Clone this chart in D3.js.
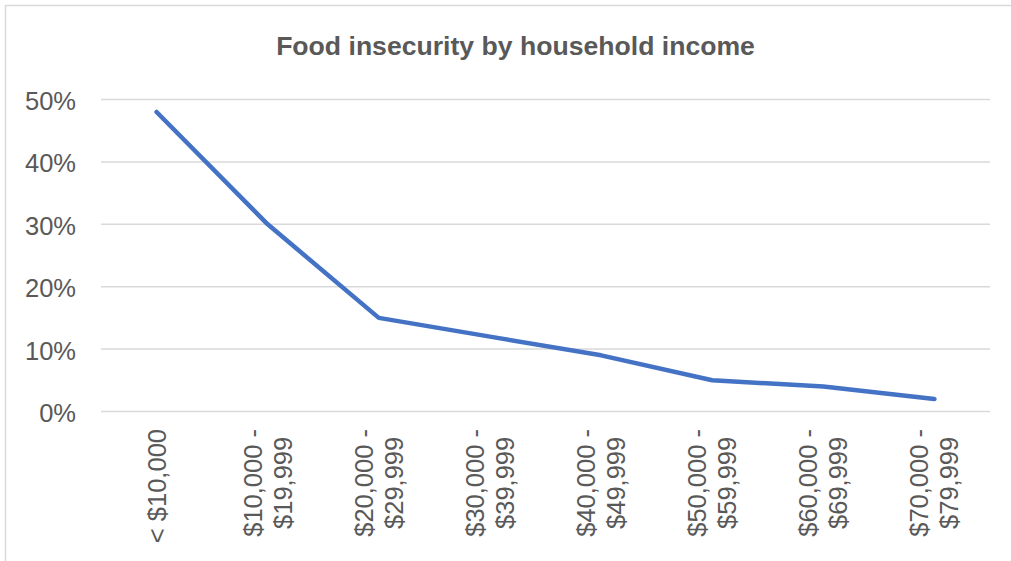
<!DOCTYPE html>
<html>
<head>
<meta charset="utf-8">
<script src="https://cdn.jsdelivr.net/npm/d3@7"></script>
<style>
  html, body { margin: 0; padding: 0; background: #ffffff; }
  svg { display: block; font-family: "Liberation Sans", Arial, sans-serif; }
</style>
</head>
<body>
<svg id="chart" width="1011" height="561"></svg>
<script>
const title = "Food insecurity by household income";
const categories = [
  ["< $10,000"],
  ["$10,000 -", "$19,999"],
  ["$20,000 -", "$29,999"],
  ["$30,000 -", "$39,999"],
  ["$40,000 -", "$49,999"],
  ["$50,000 -", "$59,999"],
  ["$60,000 -", "$69,999"],
  ["$70,000 -", "$79,999"]
];
const values = [0.48, 0.30, 0.15, 0.12, 0.09, 0.05, 0.04, 0.02];
const yTicks = [0, 0.1, 0.2, 0.3, 0.4, 0.5];

const svg = d3.select("#chart");
const W = 1011, H = 561;
const plot = { left: 101, right: 990, top: 99.5, bottom: 411.5 };
const textColor = "#595959";

// outer chart border
svg.append("rect")
  .attr("x", 5.5).attr("y", 5.5)
  .attr("width", W + 10).attr("height", H + 10)
  .attr("fill", "#ffffff")
  .attr("stroke", "#d9d9d9").attr("stroke-width", 1.5);

// title
svg.append("text")
  .attr("x", 515.5).attr("y", 46)
  .attr("text-anchor", "middle")
  .attr("dominant-baseline", "central")
  .attr("font-size", 26.6).attr("font-weight", "bold")
  .attr("fill", textColor)
  .text(title);

const x = d3.scaleBand()
  .domain(d3.range(categories.length))
  .range([plot.left, plot.right]);

const y = d3.scaleLinear()
  .domain([0, 0.5])
  .range([plot.bottom, plot.top]);

// gridlines
svg.append("g")
  .selectAll("line")
  .data(yTicks)
  .join("line")
  .attr("x1", plot.left).attr("x2", plot.right)
  .attr("y1", d => y(d)).attr("y2", d => y(d))
  .attr("stroke", "#d9d9d9").attr("stroke-width", 1.5);

// y labels
const fmt = d3.format(".0%");
svg.append("g")
  .selectAll("text")
  .data(yTicks)
  .join("text")
  .attr("x", 76)
  .attr("y", d => y(d) + 1.5)
  .attr("text-anchor", "end")
  .attr("dominant-baseline", "central")
  .attr("font-size", 25.5)
  .attr("fill", textColor)
  .text(d => fmt(d));

// x labels (rotated, multi-line)
const topY = 429;
const lineH = 30;
const xg = svg.append("g");
categories.forEach((lines, i) => {
  const g = xg.append("g")
    .attr("transform", `translate(${x(i) + x.bandwidth() / 2},${topY}) rotate(-90)`);
  const t = g.append("text")
    .attr("text-anchor", "middle")
    .attr("font-size", 25.5)
    .attr("fill", textColor);
  const spans = lines.map((s, j) =>
    t.append("tspan")
      .attr("y", (j - (lines.length - 1) / 2) * lineH)
      .attr("dominant-baseline", "central")
      .text(s)
  );
  const maxLen = d3.max(spans, sp => sp.node().getComputedTextLength());
  spans.forEach(sp => sp.attr("x", -maxLen / 2));
});

// line
const line = d3.line()
  .x((d, i) => x(i) + x.bandwidth() / 2)
  .y(d => y(d));

svg.append("path")
  .datum(values)
  .attr("d", line)
  .attr("fill", "none")
  .attr("stroke", "#4472c4")
  .attr("stroke-width", 4.5)
  .attr("stroke-linejoin", "round")
  .attr("stroke-linecap", "round");
</script>
</body>
</html>
